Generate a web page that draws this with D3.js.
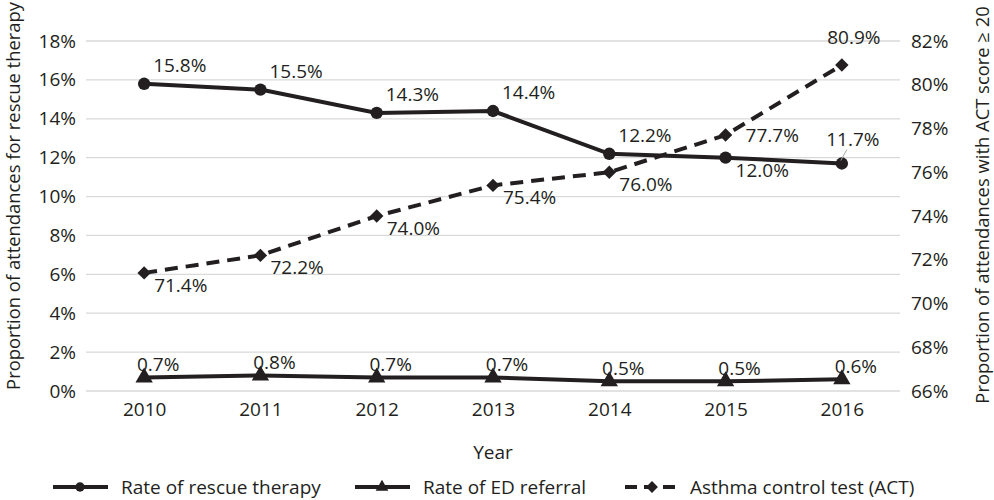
<!DOCTYPE html>
<html>
<head>
<meta charset="utf-8">
<script src="https://cdn.jsdelivr.net/npm/d3@7"></script>
<style>
  body { margin: 0; background: #fff; }
  text { font-family: "Open Sans", sans-serif; fill: #231f20; }
</style>
</head>
<body>
<div id="chart"></div>
<script>
var years = ["2010", "2011", "2012", "2013", "2014", "2015", "2016"];
var rescueRate = [15.8, 15.5, 14.3, 14.4, 12.2, 12.0, 11.7];
var edRate = [0.7, 0.8, 0.7, 0.7, 0.5, 0.5, 0.6];
var actRate = [71.4, 72.2, 74.0, 75.4, 76.0, 77.7, 80.9];
var leftTicks = [0, 2, 4, 6, 8, 10, 12, 14, 16, 18];
var rightTicks = [66, 68, 70, 72, 74, 76, 78, 80, 82];
var seriesNames = ["Rate of rescue therapy", "Rate of ED referral", "Asthma control test (ACT)"];

// where each data label sits relative to its point
var rescueLabelAt = ["ar", "ar", "ar", "ar", "ar", "br", "al"];
var edLabelAt = ["a", "a", "a", "a", "a", "a", "a"];
var actLabelAt = ["br", "br", "br", "br", "br", "r", "a2"];
var place = {
  ar: {dx: 9, dy: -19, anchor: "start"},
  br: {dx: 10, dy: 12, anchor: "start"},
  r:  {dx: 20, dy: 0, anchor: "start"},
  a:  {dx: 14, dy: -13, anchor: "middle"},
  al: {dx: 11, dy: -25, anchor: "middle", leader: true},
  a2: {dx: 12, dy: -28, anchor: "middle"}
};

var W = 994, H = 500;
var ink = "#231f20";
var fs = "19px";
var svg = d3.select("#chart").append("svg").attr("width", W).attr("height", H);

var x = d3.scalePoint().domain(years).range([86, 900]).padding(0.5);
var yL = d3.scaleLinear().domain([0, 18]).range([391, 41]);
var yR = d3.scaleLinear().domain([66, 82]).range([391, 41]);

// gridlines
svg.append("g").selectAll("line").data(leftTicks).join("line")
  .attr("x1", 86).attr("x2", 900)
  .attr("y1", d => yL(d)).attr("y2", d => yL(d))
  .attr("stroke", "#d9d9d9").attr("stroke-width", 1.3);

// axes
var axL = svg.append("g").attr("transform", "translate(86,0)")
  .call(d3.axisLeft(yL).tickValues(leftTicks).tickFormat(d => d + "%").tickSize(0).tickPadding(10));
var axR = svg.append("g").attr("transform", "translate(900,0)")
  .call(d3.axisRight(yR).tickValues(rightTicks).tickFormat(d => d + "%").tickSize(0).tickPadding(11));
var axB = svg.append("g").attr("transform", "translate(0,391)")
  .call(d3.axisBottom(x).tickSize(0).tickPadding(12));
[axL, axR, axB].forEach(function(g) {
  g.select(".domain").remove();
  g.selectAll("text").style("font-family", "Open Sans, sans-serif").style("font-size", fs).attr("fill", ink);
});

svg.append("text").attr("x", 493).attr("y", 459).attr("text-anchor", "middle")
  .style("font-size", fs).text("Year");
svg.append("text").attr("transform", "translate(20,196) rotate(-90)").attr("text-anchor", "middle")
  .style("font-size", "18.4px").text("Proportion of attendances for rescue therapy");
svg.append("text").attr("transform", "translate(989,205) rotate(-90)").attr("text-anchor", "middle")
  .style("font-size", "18.4px").text("Proportion of attendances with ACT score \u2265 20");

var line = function(y) {
  return d3.line().x((d, i) => x(years[i])).y(d => y(d));
};

function drawSeries(vals, y, symbol, size, rot, dash, labels) {
  var g = svg.append("g");
  g.append("path").datum(vals)
    .attr("d", line(y))
    .attr("fill", "none").attr("stroke", ink).attr("stroke-width", 4)
    .attr("stroke-dasharray", dash ? "13,8" : null);
  g.selectAll(".m").data(vals).join("path")
    .attr("transform", (d, i) => "translate(" + x(years[i]) + "," + y(d) + ") rotate(" + rot + ")")
    .attr("d", d3.symbol().type(symbol).size(size))
    .attr("fill", ink);
  g.selectAll(".lab").data(vals).join("text")
    .each(function(d, i) {
      var p = place[labels[i]];
      var px = x(years[i]), py = y(d);
      if (p.leader) {
        g.append("line").attr("x1", px - 1).attr("y1", py - 3).attr("x2", px + 5).attr("y2", py - 14)
          .attr("stroke", "#a6a6a6").attr("stroke-width", 1);
      }
      d3.select(this).attr("x", px + p.dx).attr("y", py + p.dy)
        .attr("text-anchor", p.anchor).attr("dominant-baseline", "central")
        .style("font-size", fs).text(d.toFixed(1) + "%");
    });
}

drawSeries(edRate, yL, d3.symbolTriangle, 130, 0, false, edLabelAt);
drawSeries(rescueRate, yL, d3.symbolCircle, 120, 0, false, rescueLabelAt);
drawSeries(actRate, yR, d3.symbolSquare, 90, 45, true, actLabelAt);

// legend
var legX = [53, 355, 625];
var legSym = [d3.symbolCircle, d3.symbolTriangle, d3.symbolSquare];
var legRot = [0, 0, 45];
var legY = 487;
seriesNames.forEach(function(name, i) {
  var g = svg.append("g");
  g.append("line").attr("x1", legX[i]).attr("x2", legX[i] + 55).attr("y1", legY).attr("y2", legY)
    .attr("stroke", ink).attr("stroke-width", 4)
    .attr("stroke-dasharray", i === 2 ? "12,7" : null);
  g.append("path").attr("transform", "translate(" + (legX[i] + 27) + "," + legY + ") rotate(" + legRot[i] + ")")
    .attr("d", d3.symbol().type(legSym[i]).size(70)).attr("fill", ink);
  g.append("text").attr("x", legX[i] + (i === 2 ? 65 : 68)).attr("y", legY)
    .attr("dominant-baseline", "central").style("font-size", fs).text(name);
});
</script>
</body>
</html>
